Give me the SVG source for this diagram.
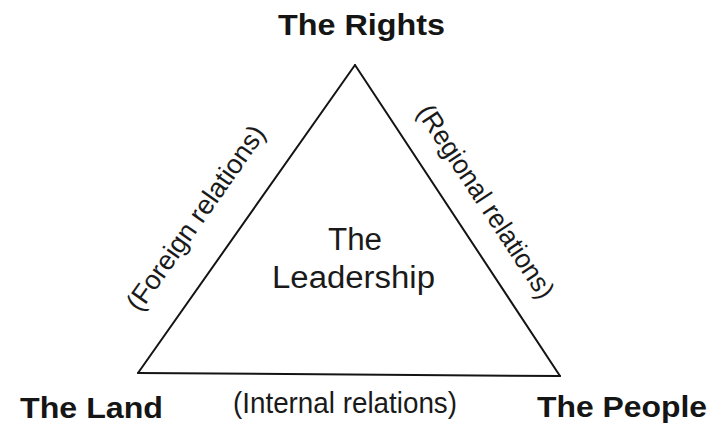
<svg xmlns="http://www.w3.org/2000/svg" width="709" height="428" viewBox="0 0 709 428">
  <style>
    .bold { font-family: "Liberation Sans", Arial, sans-serif; font-weight: bold; font-size: 30px; fill: #151515; }
    .reg { font-family: "Liberation Sans", Arial, sans-serif; font-size: 31px; fill: #1a1a1a; }
    .rel { font-family: "Liberation Sans", Arial, sans-serif; font-size: 27px; fill: #1a1a1a; }
    .edge { stroke: #141414; stroke-width: 2; fill: none; stroke-linecap: round; }
  </style>
  <rect width="709" height="428" fill="#ffffff"/>

  <!-- triangle sides linking the three corners -->
  <g id="connectors">
    <line class="edge" x1="355" y1="65" x2="138" y2="373"/>
    <line class="edge" x1="355" y1="65" x2="560" y2="376"/>
    <line class="edge" x1="138" y1="373" x2="560" y2="376"/>
  </g>

  <!-- side labels -->
  <g id="edge-labels">
    <g transform="translate(138,373) rotate(-54.83)">
      <text class="rel" x="50" y="-33" textLength="220" lengthAdjust="spacingAndGlyphs">(Foreign relations)</text>
    </g>
    <g transform="translate(355,65) rotate(56.6)">
      <text class="rel" x="73" y="-25" textLength="226" lengthAdjust="spacingAndGlyphs">(Regional relations)</text>
    </g>
    <text class="rel" x="233" y="413" font-size="29" textLength="224" lengthAdjust="spacingAndGlyphs" style="font-size:29px">(Internal relations)</text>
  </g>

  <g id="rights">
    <text class="bold" x="278" y="35" textLength="167" lengthAdjust="spacingAndGlyphs">The Rights</text>
  </g>
  <g id="land">
    <text class="bold" x="20" y="418" textLength="143" lengthAdjust="spacingAndGlyphs">The Land</text>
  </g>
  <g id="people">
    <text class="bold" x="537" y="417" textLength="170" lengthAdjust="spacingAndGlyphs">The People</text>
  </g>
  <g id="leadership">
    <text class="reg" x="328" y="250" textLength="54" lengthAdjust="spacingAndGlyphs">The</text>
    <text class="reg" x="272" y="288" textLength="163" lengthAdjust="spacingAndGlyphs">Leadership</text>
  </g>
</svg>
